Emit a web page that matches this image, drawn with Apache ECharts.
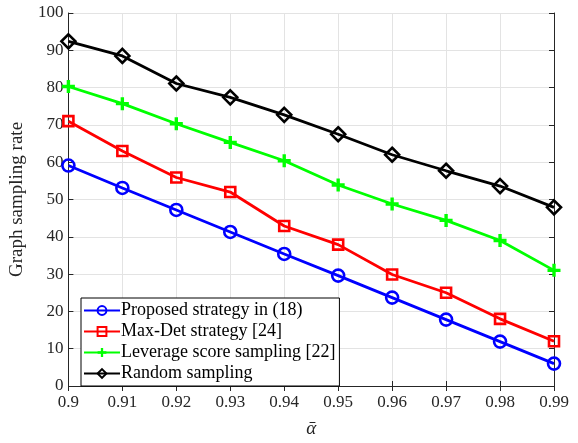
<!DOCTYPE html>
<html><head><meta charset="utf-8">
<script src="https://cdn.jsdelivr.net/npm/echarts@6/dist/echarts.min.js"></script>
<style>html,body{margin:0;padding:0;background:#fff}#c{width:578px;height:443px}</style>
</head><body><div id="c"></div>
<script>
const categories = ['0.9','0.91','0.92','0.93','0.94','0.95','0.96','0.97','0.98','0.99'];
const proposed = [59.1, 53.1, 47.2, 41.3, 35.4, 29.6, 23.7, 17.8, 11.9, 6.0];
const maxDet = [71.0, 63.0, 55.9, 52.0, 42.9, 37.9, 29.9, 25.0, 18.0, 12.0];
const leverage = [80.3, 75.7, 70.3, 65.3, 60.4, 53.9, 48.8, 44.4, 39.0, 31.0];
const random = [92.4, 88.5, 81.1, 77.4, 72.7, 67.5, 62.0, 57.7, 53.6, 47.9];
const seriesNames = ['Proposed strategy in (18)', 'Max-Det strategy [24]', 'Leverage score sampling [22]', 'Random sampling'];

const font = 'Liberation Serif, Times New Roman, serif';
const axisColor = '#262626';
const plus = 'path://M3.7,0H6.3V3.7H10V6.3H6.3V10H3.7V6.3H0V3.7H3.7Z';

const chart = echarts.init(document.getElementById('c'));
function mk(name, data, color, symbol, size, filled) {
  return {
    name, type: 'line', data, xAxisIndex: 0, yAxisIndex: 0,
    symbol, symbolSize: size, showAllSymbol: true,
    lineStyle: { color, width: 2.8 },
    itemStyle: { color: filled ? color : 'rgba(255,255,255,0)', borderColor: color, borderWidth: filled ? 0 : 2.6 },
    emphasis: { disabled: true }, animation: false, z: 3
  };
}
chart.setOption({
  animation: false,
  grid: { left: 67, right: 24, top: 13, bottom: 47 },
  legend: {
    orient: 'vertical', left: 81, top: 298,
    backgroundColor: '#fff', borderColor: '#000', borderWidth: 1,
    padding: [2, 4, 2, 2], itemGap: 0, itemWidth: 36, itemHeight: 11,
    textStyle: { fontFamily: font, fontSize: 18, lineHeight: 21, color: '#000', padding: [0, 0, 0, -4] },
    data: seriesNames
  },
  xAxis: [{
    type: 'category', data: categories, boundaryGap: false,
    name: 'ᾱ', nameLocation: 'middle', nameGap: 33,
    nameTextStyle: { fontFamily: font, fontSize: 19, color: '#262626', fontStyle: 'italic' },
    axisLine: { lineStyle: { color: axisColor, width: 1 } },
    axisTick: { inside: true, length: 5, alignWithLabel: true, lineStyle: { color: axisColor } },
    axisLabel: { fontFamily: font, fontSize: 17, color: '#262626', margin: 8 },
    splitLine: { show: true, lineStyle: { color: '#e3e3e3', width: 1 } }
  }, {
    type: 'category', data: categories, boundaryGap: false, position: 'top',
    axisLine: { lineStyle: { color: axisColor, width: 1 } },
    axisTick: { inside: true, length: 5, alignWithLabel: true, lineStyle: { color: axisColor } },
    axisLabel: { show: false }, splitLine: { show: false }
  }],
  yAxis: [{
    type: 'value', min: 0, max: 100, interval: 10,
    name: 'Graph sampling rate', nameLocation: 'middle', nameGap: 33,
    nameTextStyle: { fontFamily: font, fontSize: 19, color: '#262626' },
    axisLine: { show: true, lineStyle: { color: axisColor, width: 1 } },
    axisTick: { show: true, inside: true, length: 5, lineStyle: { color: axisColor } },
    axisLabel: { fontFamily: font, fontSize: 17, color: '#262626', margin: 5 },
    splitLine: { show: true, lineStyle: { color: '#e3e3e3', width: 1 } }
  }, {
    type: 'value', min: 0, max: 100, interval: 10, position: 'right',
    axisLine: { show: true, lineStyle: { color: axisColor, width: 1 } },
    axisTick: { show: true, inside: true, length: 5, lineStyle: { color: axisColor } },
    axisLabel: { show: false }, splitLine: { show: false }
  }],
  series: [
    mk(seriesNames[0], proposed, '#0000ff', 'circle', 12, false),
    mk(seriesNames[1], maxDet, '#ff0000', 'rect', 10, false),
    mk(seriesNames[2], leverage, '#00ff00', plus, 13, true),
    mk(seriesNames[3], random, '#000000', 'diamond', 14, false)
  ]
});
</script></body></html>
